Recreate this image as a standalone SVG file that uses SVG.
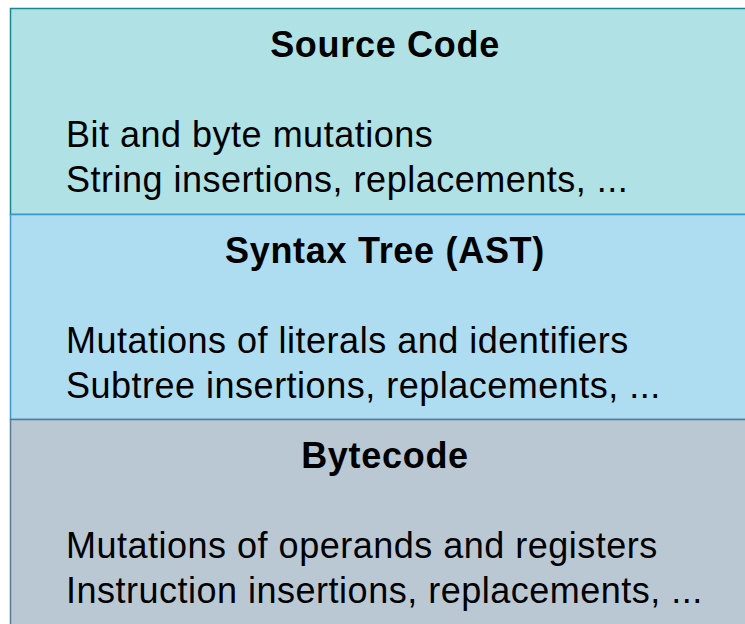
<svg xmlns="http://www.w3.org/2000/svg" width="745" height="624" viewBox="0 0 745 624">
  <style>
    .title { font-family: "Liberation Sans", Arial, sans-serif; font-size: 36px; font-weight: bold; letter-spacing: 0.7px; fill: #000; text-anchor: middle; }
    .body { font-family: "Liberation Sans", Arial, sans-serif; font-size: 36px; letter-spacing: 0.5px; fill: #000; }
  </style>
  <rect width="745" height="624" fill="#ffffff"/>
  <g id="layer-source">
    <rect x="10.5" y="8.5" width="760" height="206" fill="#b0e2e5" stroke="#14878f" stroke-width="1.5"/>
    <text class="title" x="385" y="57">Source Code</text>
    <text class="body" x="66" y="147">Bit and byte mutations</text>
    <text class="body" x="66" y="192">String insertions, replacements, ...</text>
  </g>
  <g id="layer-ast">
    <rect x="10.5" y="214.5" width="760" height="205" fill="#aedcf0" stroke="#3b98c6" stroke-width="1.5"/>
    <text class="title" x="385" y="263">Syntax Tree (AST)</text>
    <text class="body" x="66" y="353">Mutations of literals and identifiers</text>
    <text class="body" x="66" y="398">Subtree insertions, replacements, ...</text>
  </g>
  <g id="layer-bytecode">
    <rect x="10.5" y="419.5" width="760" height="220" fill="#bac8d3" stroke="#587a92" stroke-width="1.5"/>
    <text class="title" x="385" y="468">Bytecode</text>
    <text class="body" x="66" y="558">Mutations of operands and registers</text>
    <text class="body" x="66" y="603">Instruction insertions, replacements, ...</text>
  </g>
</svg>
